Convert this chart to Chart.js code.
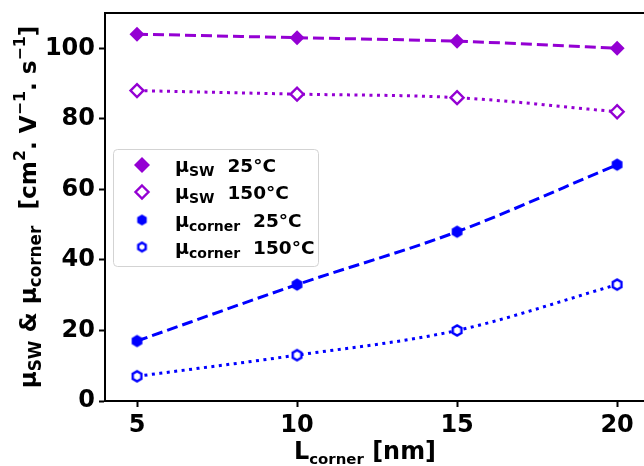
<!DOCTYPE html>
<html>
<head>
<meta charset="utf-8">
<script src="https://cdn.jsdelivr.net/npm/chart.js@4.4.1/dist/chart.umd.min.js"></script>
<style>
  html, body { margin: 0; padding: 0; background: #fff; overflow: hidden; }
  canvas { display: block; }
</style>
</head>
<body>
<canvas id="chart" width="644" height="466"></canvas>
<script>
var lCorner = [5, 10, 15, 20];
var muSw25 = [104, 103, 102, 100];
var muSw150 = [88, 87, 86, 82];
var muCorner25 = [17, 33, 48, 67];
var muCorner150 = [7, 13, 20, 33];
var xTicks = [5, 10, 15, 20];
var yTicks = [0, 20, 40, 60, 80, 100];

var PURPLE = '#9400D3';
var BLUE = '#0000FF';
var FONT = "'DejaVu Sans', sans-serif";

function makeHex(r, fill, stroke, lw) {
    var s = Math.ceil(2 * r + lw + 2);
    var c = document.createElement('canvas');
    c.width = s; c.height = s;
    var g = c.getContext('2d');
    g.beginPath();
    for (var i = 0; i < 6; i++) {
        var a = Math.PI / 6 + i * Math.PI / 3;
        var px = s / 2 + r * Math.cos(a), py = s / 2 + r * Math.sin(a);
        if (i === 0) g.moveTo(px, py); else g.lineTo(px, py);
    }
    g.closePath();
    g.fillStyle = fill;
    g.fill();
    if (lw > 0) { g.lineWidth = lw; g.strokeStyle = stroke; g.stroke(); }
    return c;
}

var hexFilled = makeHex(6.2, BLUE, BLUE, 0);
var hexOpen = makeHex(5, '#fff', BLUE, 2.4);
var hexFilledSmall = makeHex(5.5, BLUE, BLUE, 0);
var hexOpenSmall = makeHex(4.3, '#fff', BLUE, 2.4);

function toPoints(ys) {
    return lCorner.map(function(x, i) { return { x: x, y: ys[i] }; });
}

// text made of several runs (normal / sub / sup)
function richWidth(ctx, parts, k) {
    var w = 0;
    parts.forEach(function(p) {
        ctx.font = 'bold ' + (p.size * k) + 'px ' + FONT;
        w += ctx.measureText(p.t).width;
    });
    return w;
}
function drawRich(ctx, parts, x, y, center, fitWidth) {
    var k = 1;
    if (fitWidth) k = fitWidth / richWidth(ctx, parts, 1);
    var start = center ? x - richWidth(ctx, parts, k) / 2 : x;
    ctx.textBaseline = 'alphabetic';
    ctx.textAlign = 'left';
    parts.forEach(function(p) {
        ctx.font = 'bold ' + (p.size * k) + 'px ' + FONT;
        ctx.fillText(p.t, start, y + (p.dy || 0) * k);
        start += ctx.measureText(p.t).width;
    });
}

var legendItems = [
    { style: 'diamond', parts: [{ t: 'μ', size: 19 }, { t: 'SW', size: 14, dy: 4 }, { t: '  25°C', size: 18.5 }] },
    { style: 'diamondOpen', parts: [{ t: 'μ', size: 19 }, { t: 'SW', size: 14, dy: 4 }, { t: '  150°C', size: 18.5 }] },
    { style: hexFilledSmall, parts: [{ t: 'μ', size: 19 }, { t: 'corner', size: 14, dy: 4 }, { t: '  25°C', size: 18.5 }] },
    { style: hexOpenSmall, parts: [{ t: 'μ', size: 19 }, { t: 'corner', size: 14, dy: 4 }, { t: '  150°C', size: 18.5 }] }
];

var decorPlugin = {
    id: 'decor',
    afterDraw: function(chart) {
        var ctx = chart.ctx;
        var a = chart.chartArea;
        ctx.save();
        // top spine
        ctx.strokeStyle = '#000';
        ctx.lineWidth = 2;
        ctx.beginPath();
        ctx.moveTo(a.left - 1, a.top);
        ctx.lineTo(a.right + 2, a.top);
        ctx.stroke();

        // legend box
        var bx = 113, by = 149, bw = 205, bh = 117;
        ctx.fillStyle = 'rgba(255,255,255,0.85)';
        ctx.strokeStyle = '#d3d3d3';
        ctx.lineWidth = 1;
        ctx.beginPath();
        ctx.roundRect(bx + 0.5, by + 0.5, bw, bh, 4);
        ctx.fill();
        ctx.stroke();

        var rows = [165, 192, 220, 247];
        legendItems.forEach(function(it, i) {
            var cx = 142, cy = rows[i];
            if (it.style === 'diamond') {
                ctx.fillStyle = PURPLE;
                ctx.beginPath();
                ctx.moveTo(cx, cy - 8); ctx.lineTo(cx + 8, cy); ctx.lineTo(cx, cy + 8); ctx.lineTo(cx - 8, cy);
                ctx.closePath(); ctx.fill();
            } else if (it.style === 'diamondOpen') {
                ctx.strokeStyle = PURPLE;
                ctx.lineWidth = 2.4;
                ctx.fillStyle = '#fff';
                ctx.beginPath();
                ctx.moveTo(cx, cy - 6.5); ctx.lineTo(cx + 6.5, cy); ctx.lineTo(cx, cy + 6.5); ctx.lineTo(cx - 6.5, cy);
                ctx.closePath(); ctx.fill(); ctx.stroke();
            } else {
                ctx.drawImage(it.style, cx - it.style.width / 2, cy - it.style.height / 2);
            }
            ctx.fillStyle = '#000';
            drawRich(ctx, it.parts, 175, cy + 7, false);
        });

        // x axis title
        ctx.fillStyle = '#000';
        drawRich(ctx, [{ t: 'L', size: 24 }, { t: 'corner', size: 15, dy: 5 }, { t: ' [nm]', size: 24 }], 365, 459, true, 142);

        // y axis title
        ctx.translate(36, 207);
        ctx.rotate(-Math.PI / 2);
        drawRich(ctx, [
            { t: 'μ', size: 22 }, { t: 'SW', size: 16, dy: 5 }, { t: ' & ', size: 22 },
            { t: 'μ', size: 22 }, { t: 'corner', size: 16, dy: 5 }, { t: '  [cm', size: 22 },
            { t: '2', size: 15, dy: -10 }, { t: '. V', size: 22 }, { t: '−1', size: 15, dy: -10 },
            { t: '. s', size: 22 }, { t: '−1', size: 15, dy: -10 }, { t: ']', size: 22 }
        ], 0, 0, true, 363);
        ctx.restore();
    }
};

var ctx = document.getElementById('chart').getContext('2d');
new Chart(ctx, {
    type: 'line',
    data: {
        datasets: [{
            label: 'μSW 25°C',
            data: toPoints(muSw25),
            borderColor: PURPLE,
            backgroundColor: PURPLE,
            borderWidth: 3,
            borderDash: [11, 5],
            pointStyle: 'rectRot',
            pointRadius: 7.5,
            pointBorderWidth: 0
        }, {
            label: 'μSW 150°C',
            data: toPoints(muSw150),
            borderColor: PURPLE,
            backgroundColor: '#fff',
            borderWidth: 3,
            borderDash: [3, 4.5],
            pointStyle: 'rectRot',
            pointRadius: 6.5,
            pointBorderWidth: 2.4
        }, {
            label: 'μcorner 25°C',
            data: toPoints(muCorner25),
            borderColor: BLUE,
            backgroundColor: BLUE,
            borderWidth: 3,
            borderDash: [11, 5],
            pointStyle: hexFilled
        }, {
            label: 'μcorner 150°C',
            data: toPoints(muCorner150),
            borderColor: BLUE,
            backgroundColor: '#fff',
            borderWidth: 3,
            borderDash: [3, 4.5],
            pointStyle: hexOpen
        }]
    },
    options: {
        responsive: false,
        animation: false,
        elements: { line: { cubicInterpolationMode: 'monotone' } },
        layout: { autoPadding: false, padding: { top: 13, right: 0, left: 0, bottom: 0 } },
        plugins: {
            legend: { display: false },
            tooltip: { enabled: false }
        },
        scales: {
            x: {
                type: 'linear',
                min: 4,
                max: 20.84,
                afterBuildTicks: function(scale) {
                    scale.ticks = xTicks.map(function(v) { return { value: v }; });
                },
                afterFit: function(scale) {
                    scale.height = 65;
                    scale.paddingLeft = 0;
                    scale.paddingRight = 0;
                },
                grid: { drawOnChartArea: false, drawTicks: true, tickLength: 6, tickWidth: 2, color: '#000' },
                border: { display: true, width: 2, color: '#000' },
                ticks: { color: '#000', padding: 4, maxRotation: 0, font: { family: FONT, weight: 'bold', size: 24 } }
            },
            y: {
                min: 0,
                max: 110,
                afterBuildTicks: function(scale) {
                    scale.ticks = yTicks.map(function(v) { return { value: v }; });
                },
                afterFit: function(scale) {
                    scale.width = 105;
                    scale.paddingTop = 0;
                    scale.paddingBottom = 0;
                },
                grid: { drawOnChartArea: false, drawTicks: true, tickLength: 6, tickWidth: 2, color: '#000' },
                border: { display: true, width: 2, color: '#000' },
                ticks: { color: '#000', padding: 4, font: { family: FONT, weight: 'bold', size: 24 } }
            }
        }
    },
    plugins: [decorPlugin]
});
</script>
</body>
</html>
